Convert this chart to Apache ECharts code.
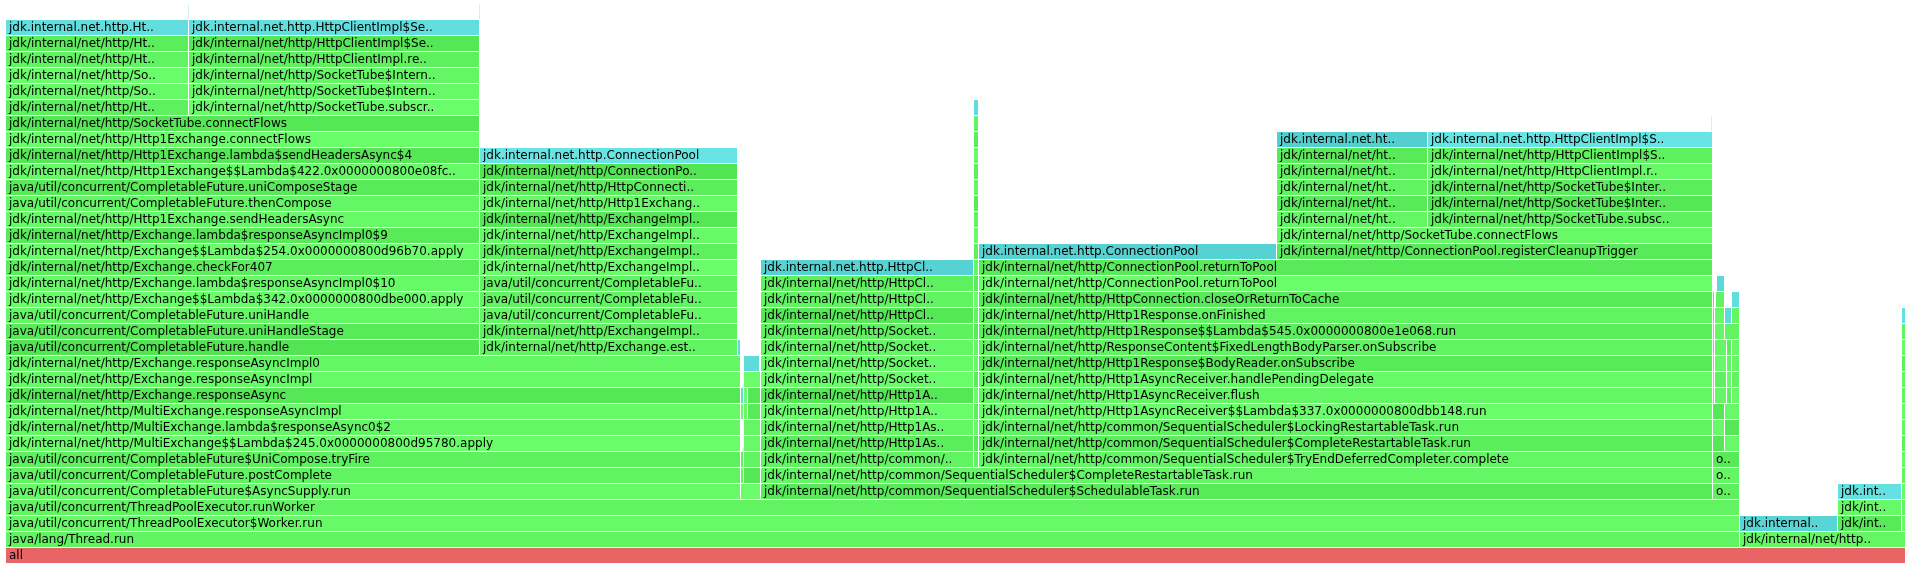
<!DOCTYPE html>
<html>
<head>
<meta charset="utf-8">
<script src="https://cdn.jsdelivr.net/npm/echarts@6/dist/echarts.min.js"></script>
<style>
html,body{margin:0;padding:0;background:#fff;}
#chart{width:1909px;height:568px;}
</style>
</head>
<body>
<div id="chart"></div>
<script>
// Flame graph frames: [depth, startSample, endSample, label, kind]  kind: g=java(green) c=inlined(cyan) r=root f=faint
const TOTAL_SAMPLES = 1900;
const MAX_DEPTH = 35;

const baseFrames = [
  [0, 0, 1900, 'all', 'r'],
  [1, 0, 1734, 'java/lang/Thread.run', 'g'],
  [2, 0, 1734, 'java/util/concurrent/ThreadPoolExecutor$Worker.run', 'g'],
  [3, 0, 1734, 'java/util/concurrent/ThreadPoolExecutor.runWorker', 'g']
];
const baseShade = [0.25, 0.6, 0.8, 0.6];

const exchangeFrames = [
  [4, 0, 735, 'java/util/concurrent/CompletableFuture$AsyncSupply.run', 'g'],
  [5, 0, 735, 'java/util/concurrent/CompletableFuture.postComplete', 'g'],
  [6, 0, 735, 'java/util/concurrent/CompletableFuture$UniCompose.tryFire', 'g'],
  [7, 0, 735, 'jdk/internal/net/http/MultiExchange$$Lambda$245.0x0000000800d95780.apply', 'g'],
  [8, 0, 735, 'jdk/internal/net/http/MultiExchange.lambda$responseAsync0$2', 'g'],
  [9, 0, 735, 'jdk/internal/net/http/MultiExchange.responseAsyncImpl', 'g'],
  [10, 0, 735, 'jdk/internal/net/http/Exchange.responseAsync', 'g'],
  [11, 0, 735, 'jdk/internal/net/http/Exchange.responseAsyncImpl', 'g'],
  [12, 0, 735, 'jdk/internal/net/http/Exchange.responseAsyncImpl0', 'g'],
  [13, 0, 474, 'java/util/concurrent/CompletableFuture.handle', 'g'],
  [14, 0, 474, 'java/util/concurrent/CompletableFuture.uniHandleStage', 'g'],
  [15, 0, 474, 'java/util/concurrent/CompletableFuture.uniHandle', 'g'],
  [16, 0, 474, 'jdk/internal/net/http/Exchange$$Lambda$342.0x0000000800dbe000.apply', 'g'],
  [17, 0, 474, 'jdk/internal/net/http/Exchange.lambda$responseAsyncImpl0$10', 'g'],
  [18, 0, 474, 'jdk/internal/net/http/Exchange.checkFor407', 'g'],
  [19, 0, 474, 'jdk/internal/net/http/Exchange$$Lambda$254.0x0000000800d96b70.apply', 'g'],
  [20, 0, 474, 'jdk/internal/net/http/Exchange.lambda$responseAsyncImpl0$9', 'g'],
  [21, 0, 474, 'jdk/internal/net/http/Http1Exchange.sendHeadersAsync', 'g'],
  [22, 0, 474, 'java/util/concurrent/CompletableFuture.thenCompose', 'g'],
  [23, 0, 474, 'java/util/concurrent/CompletableFuture.uniComposeStage', 'g'],
  [24, 0, 474, 'jdk/internal/net/http/Http1Exchange$$Lambda$422.0x0000000800e08fc..', 'g'],
  [25, 0, 474, 'jdk/internal/net/http/Http1Exchange.lambda$sendHeadersAsync$4', 'g'],
  [26, 0, 474, 'jdk/internal/net/http/Http1Exchange.connectFlows', 'g'],
  [27, 0, 474, 'jdk/internal/net/http/SocketTube.connectFlows', 'g']
];
const exchangeShade = [0.8,0.6,0.5,0.9,0.7,0.8,0.2,0.8,0.7,0.1,0.3,0.7,0.9,0.8,0.4,0.9,0.3,0.8,0.7,0.3,0.8,0.2,0.9,0.2];

const subscribeFrames = [
  [28, 0, 183, 'jdk/internal/net/http/Ht..', 'g'], [28, 183, 474, 'jdk/internal/net/http/SocketTube.subscr..', 'g'],
  [29, 0, 183, 'jdk/internal/net/http/So..', 'g'], [29, 183, 474, 'jdk/internal/net/http/SocketTube$Intern..', 'g'],
  [30, 0, 183, 'jdk/internal/net/http/So..', 'g'], [30, 183, 474, 'jdk/internal/net/http/SocketTube$Intern..', 'g'],
  [31, 0, 183, 'jdk/internal/net/http/Ht..', 'g'], [31, 183, 474, 'jdk/internal/net/http/HttpClientImpl.re..', 'g'],
  [32, 0, 183, 'jdk/internal/net/http/Ht..', 'g'], [32, 183, 474, 'jdk/internal/net/http/HttpClientImpl$Se..', 'g'],
  [33, 0, 183, 'jdk.internal.net.http.Ht..', 'c'], [33, 183, 474, 'jdk.internal.net.http.HttpClientImpl$Se..', 'c'],
  [34, 182, 183, '', 'f'], [34, 473, 474, '', 'f']
];
const subscribeShade = [0.5,0.9, 0.8,0.8, 0.9,0.7, 0.6,0.5, 0.4,0.2, 0.6,0.6, 0,0];

const establishFrames = [
  [13, 474, 732, 'jdk/internal/net/http/Exchange.est..', 'g'], [13, 732, 735, '', 'c'],
  [14, 474, 732, 'jdk/internal/net/http/ExchangeImpl..', 'g'],
  [15, 474, 732, 'java/util/concurrent/CompletableFu..', 'g'],
  [16, 474, 732, 'java/util/concurrent/CompletableFu..', 'g'],
  [17, 474, 732, 'java/util/concurrent/CompletableFu..', 'g'],
  [18, 474, 732, 'jdk/internal/net/http/ExchangeImpl..', 'g'],
  [19, 474, 732, 'jdk/internal/net/http/ExchangeImpl..', 'g'],
  [20, 474, 732, 'jdk/internal/net/http/ExchangeImpl..', 'g'],
  [21, 474, 732, 'jdk/internal/net/http/ExchangeImpl..', 'g'],
  [22, 474, 732, 'jdk/internal/net/http/Http1Exchang..', 'g'],
  [23, 474, 732, 'jdk/internal/net/http/HttpConnecti..', 'g'],
  [24, 474, 732, 'jdk/internal/net/http/ConnectionPo..', 'g'],
  [25, 474, 732, 'jdk.internal.net.http.ConnectionPool', 'c']
];
const establishShade = [0.6,0.5,0.5,0.7,0.6,0.6,0.9,0.5,0.8,0.2,0.8,0.4,0.1,0.8];

const sliverFrames = [
  [4, 735, 755, '', 'g'],
  [5, 735, 738, '', 'g'], [5, 738, 755, '', 'g'],
  [6, 735, 738, '', 'g'], [6, 738, 755, '', 'g'],
  [7, 738, 755, '', 'g'],
  [8, 738, 755, '', 'g'],
  [9, 735, 738, '', 'g'], [9, 738, 742, '', 'g'], [9, 742, 755, '', 'g'],
  [10, 735, 738, '', 'c'], [10, 738, 742, '', 'g'], [10, 742, 755, '', 'g'],
  [11, 738, 755, '', 'g'],
  [12, 738, 754, '', 'c']
];
const sliverShade = [0.9, 0.7,0.2, 0.5,0.6, 0.8, 0.7, 0.9,0.8,0.3, 0.5,0.9,0.2, 0.9, 0.5];

const schedulerFrames = [
  [4, 755, 1707, 'jdk/internal/net/http/common/SequentialScheduler$SchedulableTask.run', 'g'],
  [5, 755, 1707, 'jdk/internal/net/http/common/SequentialScheduler$CompleteRestartableTask.run', 'g'],
  [6, 755, 968, 'jdk/internal/net/http/common/..', 'g'],
  [7, 755, 968, 'jdk/internal/net/http/Http1As..', 'g'],
  [8, 755, 968, 'jdk/internal/net/http/Http1As..', 'g'],
  [9, 755, 968, 'jdk/internal/net/http/Http1A..', 'g'],
  [10, 755, 968, 'jdk/internal/net/http/Http1A..', 'g'],
  [11, 755, 968, 'jdk/internal/net/http/Socket..', 'g'],
  [12, 755, 968, 'jdk/internal/net/http/Socket..', 'g'],
  [13, 755, 968, 'jdk/internal/net/http/Socket..', 'g'],
  [14, 755, 968, 'jdk/internal/net/http/Socket..', 'g'],
  [15, 755, 968, 'jdk/internal/net/http/HttpCl..', 'g'],
  [16, 755, 968, 'jdk/internal/net/http/HttpCl..', 'g'],
  [17, 755, 968, 'jdk/internal/net/http/HttpCl..', 'g'],
  [18, 755, 968, 'jdk.internal.net.http.HttpCl..', 'c']
];
const schedulerShade = [0.3,0.7,0.6,0.4,0.7,0.9,0.2,0.9,0.8,0.7,0.5,0.2,0.6,0.5,0.2];

const thinColumnFrames = [
  [6,968,973,'','g'],[7,968,973,'','g'],[8,968,973,'','g'],[9,968,973,'','g'],[10,968,973,'','g'],
  [11,968,973,'','g'],[12,968,973,'','g'],[13,968,973,'','g'],[14,968,973,'','g'],[15,968,973,'','g'],
  [16,968,973,'','g'],[17,968,973,'','g'],[18,968,973,'','g'],[19,968,973,'','g'],[20,968,973,'','g'],
  [21,968,973,'','g'],[22,968,973,'','g'],[23,968,973,'','g'],[24,968,973,'','g'],[25,968,973,'','g'],
  [26,968,973,'','g'],[27,968,973,'','g'],[28,968,973,'','c']
];
const thinColumnShade = [0.6,0.3,0.8,0.5,0.9,0.4,0.8,0.7,0.3,0.6,0.9,0.4,0.7,0.5,0.8,0.6,0.3,0.7,0.5,0.8,0.4,0.6,0.5];

const returnToPoolFrames = [
  [6, 973, 1707, 'jdk/internal/net/http/common/SequentialScheduler$TryEndDeferredCompleter.complete', 'g'],
  [7, 973, 1707, 'jdk/internal/net/http/common/SequentialScheduler$CompleteRestartableTask.run', 'g'],
  [8, 973, 1707, 'jdk/internal/net/http/common/SequentialScheduler$LockingRestartableTask.run', 'g'],
  [9, 973, 1707, 'jdk/internal/net/http/Http1AsyncReceiver$$Lambda$337.0x0000000800dbb148.run', 'g'],
  [10, 973, 1707, 'jdk/internal/net/http/Http1AsyncReceiver.flush', 'g'],
  [11, 973, 1707, 'jdk/internal/net/http/Http1AsyncReceiver.handlePendingDelegate', 'g'],
  [12, 973, 1707, 'jdk/internal/net/http/Http1Response$BodyReader.onSubscribe', 'g'],
  [13, 973, 1707, 'jdk/internal/net/http/ResponseContent$FixedLengthBodyParser.onSubscribe', 'g'],
  [14, 973, 1707, 'jdk/internal/net/http/Http1Response$$Lambda$545.0x0000000800e1e068.run', 'g'],
  [15, 973, 1707, 'jdk/internal/net/http/Http1Response.onFinished', 'g'],
  [16, 973, 1707, 'jdk/internal/net/http/HttpConnection.closeOrReturnToCache', 'g'],
  [17, 973, 1707, 'jdk/internal/net/http/ConnectionPool.returnToPool', 'g'],
  [18, 973, 1707, 'jdk/internal/net/http/ConnectionPool.returnToPool', 'g'],
  [19, 973, 1271, 'jdk.internal.net.http.ConnectionPool', 'c'],
  [19, 1271, 1707, 'jdk/internal/net/http/ConnectionPool.registerCleanupTrigger', 'g'],
  [20, 1271, 1707, 'jdk/internal/net/http/SocketTube.connectFlows', 'g'],
  [21, 1271, 1422, 'jdk/internal/net/ht..', 'g'], [21, 1422, 1707, 'jdk/internal/net/http/SocketTube.subsc..', 'g'],
  [22, 1271, 1422, 'jdk/internal/net/ht..', 'g'], [22, 1422, 1707, 'jdk/internal/net/http/SocketTube$Inter..', 'g'],
  [23, 1271, 1422, 'jdk/internal/net/ht..', 'g'], [23, 1422, 1707, 'jdk/internal/net/http/SocketTube$Inter..', 'g'],
  [24, 1271, 1422, 'jdk/internal/net/ht..', 'g'], [24, 1422, 1707, 'jdk/internal/net/http/HttpClientImpl.r..', 'g'],
  [25, 1271, 1422, 'jdk/internal/net/ht..', 'g'], [25, 1422, 1707, 'jdk/internal/net/http/HttpClientImpl$S..', 'g'],
  [26, 1271, 1422, 'jdk.internal.net.ht..', 'c'], [26, 1422, 1707, 'jdk.internal.net.http.HttpClientImpl$S..', 'c'],
  [27, 1705, 1707, '', 'f']
];
const returnToPoolShade = [0.7,0.4,0.6,0.9,0.7,0.8,0.3,0.6,0.4,0.6,0.3,0.9,0.3, 0.2,0.3, 0.8,
  0.7,0.5, 0.3,0.2, 0.6,0.4, 0.5,0.8, 0.3,0.5, 0.1,0.8, 0];

const otherFrames = [
  [4, 1707, 1734, 'o..', 'g'], [5, 1707, 1734, 'o..', 'g'], [6, 1707, 1734, 'o..', 'g'],
  [7, 1707, 1719, '', 'g'], [7, 1719, 1734, '', 'g'],
  [8, 1707, 1719, '', 'g'], [8, 1719, 1734, '', 'g'],
  [9, 1707, 1719, '', 'g'], [9, 1719, 1734, '', 'g'],
  [10, 1707, 1709, '', 'g'], [10, 1709, 1721, '', 'g'], [10, 1721, 1726, '', 'g'], [10, 1726, 1734, '', 'g'],
  [11, 1707, 1709, '', 'g'], [11, 1709, 1721, '', 'g'], [11, 1721, 1726, '', 'g'], [11, 1726, 1734, '', 'g'],
  [12, 1707, 1709, '', 'g'], [12, 1709, 1721, '', 'g'], [12, 1721, 1726, '', 'g'], [12, 1726, 1734, '', 'g'],
  [13, 1707, 1709, '', 'g'], [13, 1709, 1721, '', 'g'], [13, 1721, 1726, '', 'g'], [13, 1726, 1734, '', 'g'],
  [14, 1707, 1709, '', 'g'], [14, 1709, 1719, '', 'g'], [14, 1719, 1734, '', 'g'],
  [15, 1707, 1709, '', 'c'], [15, 1709, 1719, '', 'g'], [15, 1719, 1726, '', 'c'], [15, 1726, 1734, '', 'g'],
  [16, 1707, 1709, '', 'c'], [16, 1710, 1719, '', 'g'], [16, 1726, 1734, '', 'c'],
  [17, 1711, 1719, '', 'c']
];
const otherShade = [0.5,0.7,0.3, 0.2,0.8, 0.8,0.2, 0.2,0.8,
  0.6,0.7,0.5,0.8, 0.7,0.5,0.8,0.6, 0.6,0.8,0.6,0.7, 0.5,0.7,0.4,0.8,
  0.6,0.7,0.6, 0.4,0.8,0.5,0.7, 0.4,0.6,0.6, 0.4];

const rightFrames = [
  [1, 1734, 1900, 'jdk/internal/net/http..', 'g'],
  [2, 1734, 1832, 'jdk.internal..', 'c'], [2, 1832, 1896, 'jdk/int..', 'g'], [2, 1896, 1900, '', 'g'],
  [3, 1832, 1896, 'jdk/int..', 'g'], [3, 1896, 1900, '', 'g'],
  [4, 1832, 1896, 'jdk.int..', 'c'], [4, 1896, 1900, '', 'g'],
  [5, 1896, 1900, '', 'g'], [6, 1896, 1900, '', 'g'], [7, 1896, 1900, '', 'g'], [8, 1896, 1900, '', 'g'],
  [9, 1896, 1900, '', 'g'], [10, 1896, 1900, '', 'g'], [11, 1896, 1900, '', 'g'], [12, 1896, 1900, '', 'g'],
  [13, 1896, 1900, '', 'g'], [14, 1896, 1900, '', 'g'], [15, 1896, 1900, '', 'c']
];
const rightShade = [0.7, 0.3,0.3,0.8, 0.8,0.6, 0.7,0.8, 0.6,0.8,0.5,0.7,0.8,0.6,0.7,0.5,0.8,0.6,0.7];

// ---- assemble ----
const groups = [
  [baseFrames, baseShade], [exchangeFrames, exchangeShade], [subscribeFrames, subscribeShade],
  [establishFrames, establishShade], [sliverFrames, sliverShade], [schedulerFrames, schedulerShade],
  [thinColumnFrames, thinColumnShade], [returnToPoolFrames, returnToPoolShade],
  [otherFrames, otherShade], [rightFrames, rightShade]
];
const frames = [];
groups.forEach(([fr, sh]) => fr.forEach((f, i) => frames.push({ f, shade: sh[i] || 0 })));

function hex(n) { return Math.max(0, Math.min(255, Math.round(n))).toString(16).padStart(2, '0'); }
function colorOf(kind, v) {
  if (kind === 'r') return '#' + hex(0xe1 + 30 * v) + hex(0x5a + 40 * v) + hex(0x5a + 40 * v);
  if (kind === 'c') return '#' + hex(0x50 + 30 * v) + hex(0xcc + 30 * v) + hex(0xcc + 30 * v);
  if (kind === 'f') return '#d8ecee';
  return '#' + hex(0x50 + 30 * v) + hex(0xe1 + 30 * v) + hex(0x50 + 30 * v);
}

const chart = echarts.init(document.getElementById('chart'), null, { renderer: 'canvas' });
chart.setOption({
  backgroundColor: '#ffffff',
  animation: false,
  grid: { left: 6, right: 3, top: 4, bottom: 4 },
  xAxis: { type: 'value', min: 0, max: TOTAL_SAMPLES, show: false },
  yAxis: { type: 'value', min: 0, max: MAX_DEPTH, show: false },
  series: [{
    type: 'custom',
    silent: true,
    clip: false,
    encode: { x: [1, 2], y: 0 },
    data: frames.map(o => [o.f[0], o.f[1], o.f[2]]),
    renderItem: function (params, api) {
      const o = frames[params.dataIndex];
      const d = api.value(0), s = api.value(1), e = api.value(2);
      const tl = api.coord([s, d + 1]);
      const br = api.coord([e, d]);
      const x = Math.round(tl[0]), y = Math.round(tl[1]);
      const w = Math.max(1, Math.round(br[0]) - x - 1);
      const h = Math.round(br[1]) - y - 1;
      const children = [{ type: 'rect', shape: { x: x, y: y, width: w, height: h },
        style: { fill: colorOf(o.f[4], o.shade) } }];
      if (o.f[3] && w > 20) {
        children.push({ type: 'text', style: { x: x + 3, y: y + h / 2 + 0.5, text: o.f[3],
          font: '12px "DejaVu Sans", Verdana, sans-serif', fill: '#000', verticalAlign: 'middle', align: 'left' } });
      }
      return { type: 'group', clipPath: { type: 'rect', shape: { x: x, y: y, width: w, height: h } }, children: children };
    }
  }]
});
</script>
</body>
</html>
